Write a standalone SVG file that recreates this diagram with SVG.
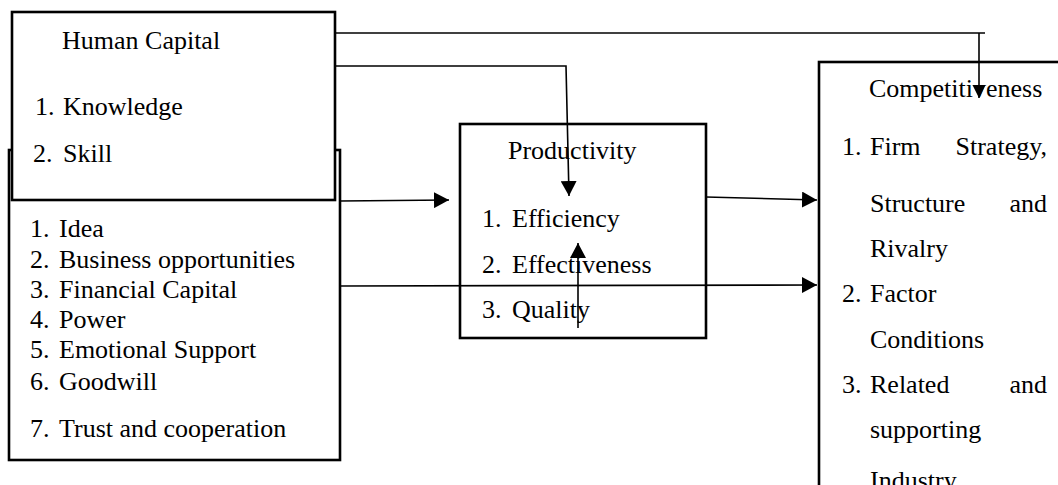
<svg xmlns="http://www.w3.org/2000/svg" width="1058" height="485" viewBox="0 0 1058 485">
<style>
text{font-family:"Liberation Serif","Times New Roman",serif;font-size:26px;fill:#000}
.box{fill:#fff;stroke:#000;stroke-width:2.6}
.con{fill:none;stroke:#000;stroke-width:1.6}
</style>
<defs>
<marker id="ah" markerUnits="userSpaceOnUse" markerWidth="16" markerHeight="16" refX="15" refY="8" orient="auto">
<path d="M0,0 L15,8 L0,16 z" fill="#000"/>
</marker>
<marker id="ahs" markerUnits="userSpaceOnUse" markerWidth="14" markerHeight="14" refX="13" refY="6.5" orient="auto">
<path d="M0,0 L13,6.5 L0,13 z" fill="#000"/>
</marker>
</defs>
<rect width="1058" height="485" fill="#fff"/>
<g id="social-capital">
<rect class="box" x="9" y="150" width="331" height="310"/>
<text x="30" y="237">1.</text><text x="59" y="237">Idea</text>
<text x="30" y="268">2.</text><text x="59" y="268">Business opportunities</text>
<text x="30" y="298">3.</text><text x="59" y="298">Financial Capital</text>
<text x="30" y="328">4.</text><text x="59" y="328">Power</text>
<text x="30" y="358">5.</text><text x="59" y="358">Emotional Support</text>
<text x="30" y="390">6.</text><text x="59" y="390">Goodwill</text>
<text x="30" y="437">7.</text><text x="59" y="437">Trust and cooperation</text>
</g>
<g id="human-capital">
<rect class="box" x="12" y="12" width="323" height="188"/>
<text x="62" y="49">Human Capital</text>
<text x="35" y="115">1.</text><text x="63" y="115">Knowledge</text>
<text x="33" y="162">2.</text><text x="63" y="162">Skill</text>
</g>
<g id="productivity">
<rect class="box" x="460" y="124" width="246" height="214"/>
<text x="508" y="159">Productivity</text>
<text x="482" y="227">1.</text><text x="512" y="227">Efficiency</text>
<text x="482" y="273">2.</text><text x="512" y="273">Effectiveness</text>
<text x="482" y="318">3.</text><text x="512" y="318">Quality</text>
</g>
<g id="competitiveness">
<rect class="box" x="819" y="62" width="260" height="450"/>
<text x="869" y="97">Competitiveness</text>
<text x="842" y="155">1.</text><text x="870" y="155">Firm</text><text x="1047" y="155" text-anchor="end">Strategy,</text>
<text x="870" y="212">Structure</text><text x="1047" y="212" text-anchor="end">and</text>
<text x="870" y="257">Rivalry</text>
<text x="842" y="302">2.</text><text x="870" y="302">Factor</text>
<text x="870" y="348">Conditions</text>
<text x="842" y="393">3.</text><text x="870" y="393">Related</text><text x="1047" y="393" text-anchor="end">and</text>
<text x="870" y="438">supporting</text>
<text x="870" y="489">Industry</text>
</g>
<g id="connectors">
<path class="con" d="M335,33 H985"/>
<path class="con" d="M979,33 V98" marker-end="url(#ahs)"/>
<path class="con" d="M335,66 H566 L569,196" marker-end="url(#ah)"/>
<path class="con" d="M340,201 L449,200" marker-end="url(#ah)"/>
<path class="con" d="M340,286 L817,285" marker-end="url(#ah)"/>
<path class="con" d="M706,197 L817,200" marker-end="url(#ah)"/>
<path class="con" d="M578,328 V243" marker-end="url(#ah)"/>
</g>
</svg>
